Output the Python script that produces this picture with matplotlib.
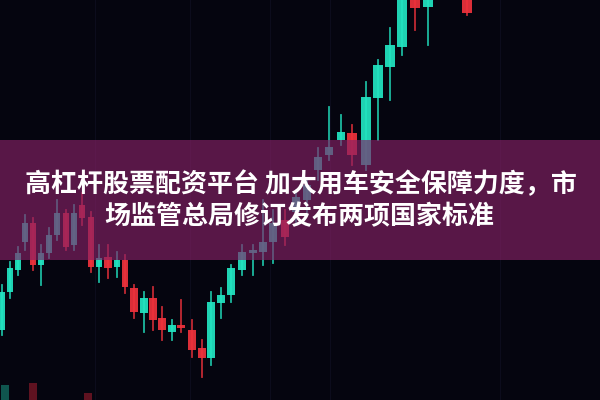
import numpy as np
import matplotlib
matplotlib.use("Agg")
import matplotlib.pyplot as plt
from matplotlib.patches import Rectangle

plt.rcParams['font.family'] = ['Noto Sans CJK SC', 'DejaVu Sans']

# candle data (price scale 0..400, bottom = 0)
t = [2, 10, 18, 25, 33, 41, 49, 57, 66, 74, 82, 91, 99, 108, 117, 125, 134, 144, 153, 162,
     172, 181, 192, 202, 211, 221, 231, 242, 253, 263, 273, 285, 296, 307, 318, 329, 341, 352,
     366, 378, 390, 402, 415, 428, 467]
opens = [70, 108, 130, 158, 177, 135, 147, 165, 187, 155, 195, 183, 133, 143, 133, 140, 112, 87, 102, 82,
         68, 75, 70, 52, 42, 97, 105, 130, 147, 148, 158, 180, 188, 200, 230, 245, 260, 267,
         235, 302, 333, 353, 405, 393, 405]
closes = [108, 132, 147, 177, 135, 147, 165, 187, 153, 187, 182, 133, 142, 132, 140, 113, 88, 102, 80, 70,
          75, 72, 50, 42, 98, 105, 132, 148, 150, 158, 177, 163, 203, 215, 243, 253, 268, 245,
          303, 335, 355, 405, 392, 405, 387]
highs = [115, 138, 153, 185, 182, 155, 172, 200, 190, 195, 207, 188, 155, 155, 148, 145, 115, 108, 113, 93,
         80, 100, 80, 60, 108, 112, 135, 155, 155, 200, 190, 190, 210, 222, 252, 293, 285, 275,
         318, 340, 372, 410, 410, 410, 410]
lows = [65, 102, 125, 150, 130, 115, 142, 160, 150, 150, 175, 128, 118, 122, 123, 107, 82, 68, 70, 60,
        60, 68, 43, 23, 35, 82, 98, 125, 125, 135, 137, 155, 175, 188, 220, 240, 255, 235,
        230, 260, 300, 345, 370, 355, 385]

# faint blurred candles at the bottom edge
t_low = [5, 33, 88]
top_low = [15, 17, 7]
low_colors = ['#1fcfae', '#e8283c', '#e8283c']

green = '#22e6c2'
red = '#f0323c'

fig = plt.figure(figsize=(6, 4), dpi=100)
ax = fig.add_axes([0, 0, 1, 1])
ax.set_facecolor('#05050f')
fig.patch.set_facecolor('#05050f')

# faint vertical grid lines
for gx in [95, 190, 270, 330, 500]:
    ax.axvline(gx, color='#14142a', lw=0.8, alpha=0.5, zorder=0)

t_arr = np.array(t, dtype=float)
sp = np.gradient(t_arr)
for i in range(len(t)):
    up = closes[i] >= opens[i]
    c = green if up else red
    w = min(sp[i], 12) * 0.78
    ax.plot([t[i], t[i]], [lows[i], highs[i]], color=c, lw=1.3, alpha=0.8, zorder=2)
    lo = min(opens[i], closes[i])
    h = max(abs(closes[i] - opens[i]), 2.5)
    ax.add_patch(Rectangle((t[i] - w / 2, lo), w, h, color=c, alpha=0.92, zorder=3, lw=0))

for x, tp, c in zip(t_low, top_low, low_colors):
    ax.add_patch(Rectangle((x - 4, -5), 8, tp + 5, color=c, alpha=0.4, zorder=3, lw=0))

# purple band
ax.add_patch(Rectangle((-10, 140), 620, 120, color='#c8359a', alpha=0.5, zorder=5, lw=0))
ax.add_patch(Rectangle((-10, 140), 620, 120, color='#3a0a2c', alpha=0.3, zorder=5, lw=0))

ax.text(301, 215, '高杠杆股票配资平台 加大用车安全保障力度，市', color='white', fontsize=18.7,
        fontweight='bold', ha='center', va='center', zorder=6)
ax.text(299, 183, '场监管总局修订发布两项国家标准', color='white', fontsize=18.7,
        fontweight='bold', ha='center', va='center', zorder=6)

ax.set_xlim(0, 600)
ax.set_ylim(0, 400)
ax.axis('off')
fig.savefig('out.png', dpi=100, facecolor=fig.get_facecolor())
